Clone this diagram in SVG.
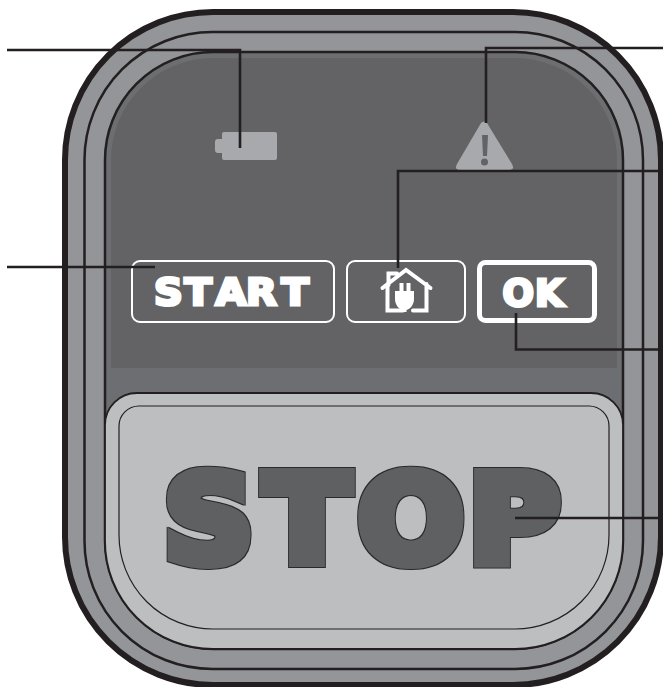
<svg xmlns="http://www.w3.org/2000/svg" width="663" height="687" viewBox="0 0 663 687">
<defs>
<style>
.cn{stroke:#231f20;stroke-width:2.600;fill:none}
.lbl{font-family:"DejaVu Sans",sans-serif;font-weight:700;fill:#fff;stroke:#fff;stroke-width:3;stroke-linejoin:miter}
.wh{fill:#fff;stroke:none}
.ic{fill:#a7a9ac}
</style>
<filter id="outline" x="-5%" y="-10%" width="110%" height="120%">
<feMorphology in="SourceAlpha" operator="dilate" radius="1.1" result="d"/>
<feFlood flood-color="#2b2a2b"/>
<feComposite in2="d" operator="in" result="o"/>
<feMerge><feMergeNode in="o"/><feMergeNode in="SourceGraphic"/></feMerge>
</filter>
</defs>
<rect width="663" height="687" fill="#fff"/>
<g id="housing">
<rect x="65" y="12" width="596" height="673" rx="148" ry="148" fill="#939598" stroke="#231f20" stroke-width="6"/>
<rect x="84.500" y="32" width="558.500" height="637" rx="128" ry="128" fill="#939598" stroke="#231f20" stroke-width="2.500"/>
<rect x="105" y="52" width="518" height="597" rx="108" ry="108" fill="#6d6e71" stroke="#231f20" stroke-width="2.500"/>
<path d="M111 368V160A102 102 0 0 1 213 58H515A102 102 0 0 1 617 160V368Z" fill="#636365"/>
</g>
<g id="stop-button">
<path d="M105 425A32 32 0 0 1 137 393H591A32 32 0 0 1 623 425V541A108 108 0 0 1 515 649H213A108 108 0 0 1 105 541Z" fill="#bcbec0" stroke="#231f20" stroke-width="1.800"/>
<path d="M119 426A20 20 0 0 1 139 406H589A20 20 0 0 1 609 426V535A94 94 0 0 1 515 629H213A94 94 0 0 1 119 535Z" fill="#bcbec0" stroke="#231f20" stroke-width="1.200"/>
<g filter="url(#outline)"><text transform="scale(1.04 1)" x="158 254.500 344.500 451" y="561" font-family="'DejaVu Sans',sans-serif" font-weight="700" font-size="119" fill="#5f6062" stroke="#5f6062" stroke-width="12" stroke-linejoin="miter">STOP</text></g>
</g>
<g id="battery">
<path class="ic" d="M224 132H275a2 2 0 0 1 2 2V158a2 2 0 0 1-2 2H224a2 2 0 0 1-2-2V153H218a3 3 0 0 1-3-3V142a3 3 0 0 1 3-3H222V134a2 2 0 0 1 2-2Z"/>
</g>
<g id="warning">
<path class="ic" d="M481 123Q484 120 487 123L512 164Q515 170 509 170H460Q454 170 457 164Z"/>
<path d="M482 135H488L487 156H483Z" fill="#636365"/>
<circle cx="484.500" cy="162" r="3.500" fill="#636365"/>
</g>
<g id="start">
<rect x="132" y="261" width="202" height="61" rx="8" fill="none" stroke="#fff" stroke-width="2"/>
<text class="lbl" transform="scale(1.08 1)" x="142.600 170.800 199.500 227.800 260.600" y="305.500" font-size="37">START</text>
</g>
<g id="home">
<rect x="347" y="261" width="118" height="61" rx="8" fill="none" stroke="#fff" stroke-width="2"/>
<path d="M382.500 288L406 270L430.500 288M387.500 284V310.500H403M413 310.500H426.500V284M388.500 285V273.500H397" fill="none" stroke="#fff" stroke-width="4" stroke-linecap="round" stroke-linejoin="miter"/>
<path class="wh" d="M395 291H414V299C414 305 410 309 406.500 310V312H402.500V310C399 309 395 305 395 299ZM399.500 283H403.500V292H399.500ZM406.500 283H410.500V292H406.500Z"/>
</g>
<g id="ok">
<rect x="479.500" y="262.500" width="115" height="58" rx="6" fill="none" stroke="#fff" stroke-width="5"/>
<text class="lbl" x="502.500 535" y="305.500" font-size="37">OK</text>
</g>
<g id="connectors">
<path class="cn" d="M7 50H240V148"/>
<path class="cn" d="M7 267H155"/>
<path class="cn" d="M663 48H486V123"/>
<path class="cn" d="M663 171H398V268"/>
<path class="cn" d="M663 349.500H516V313"/>
<path class="cn" d="M663 518H515"/>
</g>
</svg>
